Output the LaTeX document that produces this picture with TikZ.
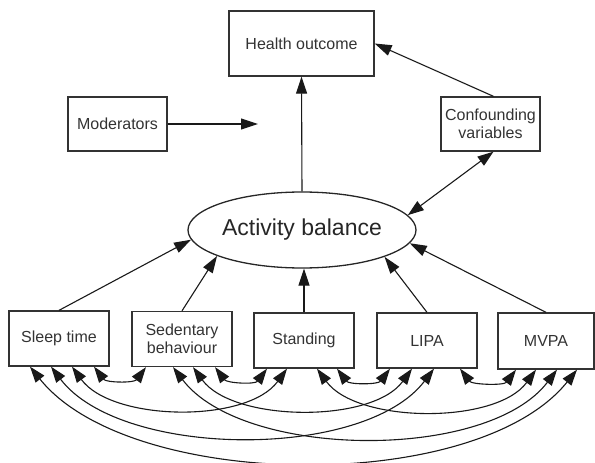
\documentclass[tikz,border=0pt]{standalone}
\usepackage{fontspec}
\setmainfont{Liberation Sans}
\usetikzlibrary{arrows.meta,shapes.geometric}
\begin{document}
\begin{tikzpicture}[x=1pt,y=-1pt,
  box/.style={draw=black!80, line width=1.3pt, inner sep=0pt, align=center,
    text=black!80, font=\fontsize{16}{18}\selectfont},
  bbox/.style={box, minimum width=100pt, minimum height=55pt},
  ellbox/.style={draw=black!85, line width=1.3pt, ellipse, inner sep=0pt,
    minimum width=228pt, minimum height=76pt, text=black!85,
    font=\fontsize{23}{26}\selectfont},
  arr/.style={line width=1.1pt, draw=black!90, -{Triangle[length=17pt,width=11pt]}},
  arrb/.style={line width=1.1pt, draw=black!90, {Triangle[length=16pt,width=11pt]}-{Triangle[length=16pt,width=11pt]}},
  ]
\useasboundingbox (0,0) rectangle (595,463);
% top row
\node[box, minimum width=145pt, minimum height=65pt] (health) at (301.5,43.5) {Health outcome};
\node[box, minimum width=99pt, minimum height=54pt] (mod) at (117.5,124) {Moderators};
\node[box, minimum width=99pt, minimum height=54pt] (conf) at (490.5,124) {Confounding\\variables};
\coordinate (modend) at (258,124);
% ellipse
\node[ellbox] (ell) at (302,230) {Activity balance};
% bottom row
\node[bbox] (sleep) at (59,338.5) {Sleep time};
\node[bbox] (sed) at (182,339) {Sedentary\\behaviour};
\node[bbox] (stand) at (304,340.5) {Standing};
\node[bbox] (lipa) at (427,340.5) {LIPA};
\node[box, minimum width=96pt, minimum height=56pt] (mvpa) at (546,341) {MVPA};
% upper arrows
\draw[arr] (ell.north) -- (health.south);
\draw[arr] (mod.east) -- (modend);
\draw[arr] ([xshift=3pt]conf.north) -- (health.east);
\draw[arrb] ([xshift=3pt]conf.south) -- (ell.8);
% bottom to ellipse
\draw[arr] (sleep.north) -- (ell.185);
\draw[arr] (sed.north) -- (ell.197);
\draw[arr] (stand.north) -- (stand.north |- ell.south);
\draw[arr] (lipa.north) -- (ell.-18);
\draw[arr] (mvpa.north) -- (ell.-7);
% anchor points at the bottoms
\coordinate (s1) at ([xshift=-29pt]sleep.south);
\coordinate (s2) at ([xshift=-8pt]sleep.south);
\coordinate (s3) at ([xshift=13pt]sleep.south);
\coordinate (s4) at ([xshift=35pt]sleep.south);
\coordinate (e1) at ([xshift=-36pt]sed.south);
\coordinate (e2) at ([xshift=-9pt]sed.south);
\coordinate (e3) at ([xshift=11pt]sed.south);
\coordinate (e4) at ([xshift=33pt]sed.south);
\coordinate (t1) at ([xshift=-37pt]stand.south);
\coordinate (t2) at ([xshift=-17pt]stand.south);
\coordinate (t3) at ([xshift=13pt]stand.south);
\coordinate (t4) at ([xshift=33pt]stand.south);
\coordinate (l1) at ([xshift=-37pt]lipa.south);
\coordinate (l2) at ([xshift=-15pt]lipa.south);
\coordinate (l3) at ([xshift=7pt]lipa.south);
\coordinate (l4) at ([xshift=33pt]lipa.south);
\coordinate (m1) at ([xshift=-30pt]mvpa.south);
\coordinate (m2) at ([xshift=-10pt]mvpa.south);
\coordinate (m3) at ([xshift=11pt]mvpa.south);
\coordinate (m4) at ([xshift=31pt]mvpa.south);
% span 1
\draw[arrb] (s4) .. controls +(12,16) and +(-12,16) .. (e1);
\draw[arrb] (e4) .. controls +(12,16) and +(-12,16) .. (t1);
\draw[arrb] (t4) .. controls +(12,16) and +(-12,16) .. (l1);
\draw[arrb] (l4) .. controls +(12,16) and +(-12,16) .. (m1);
% span 2
\draw[arrb] (s3) .. controls +(40,55) and +(-40,55) .. (t2);
\draw[arrb] (e3) .. controls +(40,55) and +(-40,55) .. (l2);
\draw[arrb] (t3) .. controls +(40,55) and +(-40,55) .. (m2);
% span 3
\draw[arrb] (s2) .. controls +(70,92) and +(-70,92) .. (l3);
\draw[arrb] (e2) .. controls +(70,92) and +(-70,92) .. (m3);
% span 4
\draw[arrb] (s1) .. controls +(100,125) and +(-100,125) .. (m4);
\end{tikzpicture}
\end{document}
